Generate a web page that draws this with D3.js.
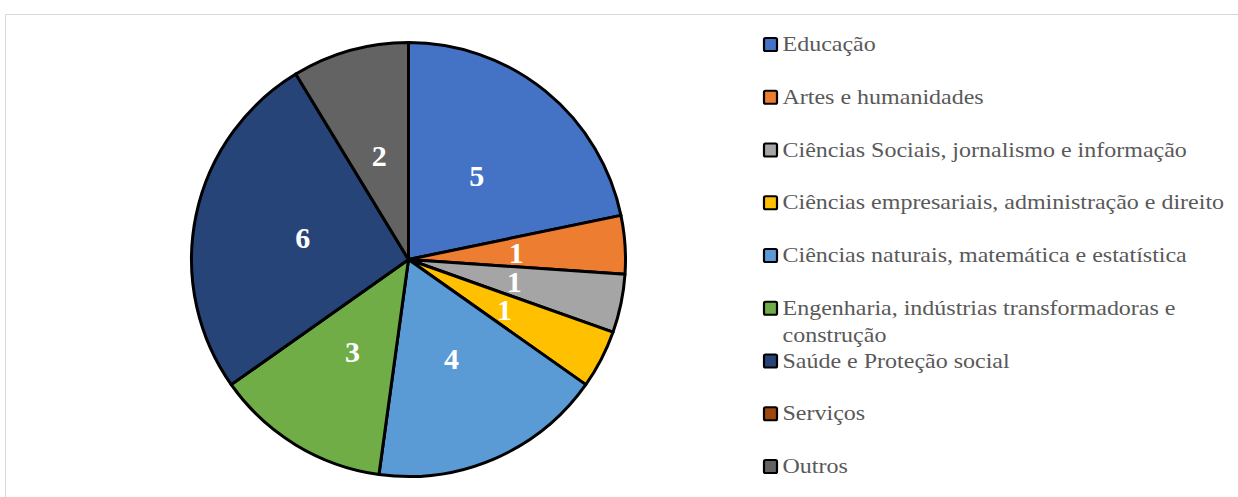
<!DOCTYPE html>
<html><head><meta charset="utf-8">
<script src="https://cdn.jsdelivr.net/npm/d3@7"></script>
<style>html,body{margin:0;padding:0;background:#fff;}svg{display:block;}
text{font-family:'Liberation Serif';}</style>
</head><body>
<svg id="chart" width="1238" height="497"></svg>
<script>
const categories = ["Educação","Artes e humanidades","Ciências Sociais, jornalismo e informação","Ciências empresariais, administração e direito","Ciências naturais, matemática e estatística","Engenharia, indústrias transformadoras e construção","Saúde e Proteção social","Serviços","Outros"];
const legendLines = [["Educação"],["Artes e humanidades"],["Ciências Sociais, jornalismo e informação"],["Ciências empresariais, administração e direito"],["Ciências naturais, matemática e estatística"],["Engenharia, indústrias transformadoras e","construção"],["Saúde e Proteção social"],["Serviços"],["Outros"]];
const values = [5,1,1,1,4,3,6,0,2];
const colors = ["#4472C4","#ED7D31","#A5A5A5","#FFC000","#5B9BD5","#70AD47","#264478","#9E480E","#636363"];

const svg = d3.select("#chart");
// chart area border
svg.append("path").attr("d","M5.5,497 L5.5,14.5 L1238,14.5").attr("fill","none").attr("stroke","#d9d9d9").attr("stroke-width",1);

const cx = 408.5, cy = 259.5, R = 217;
const data = categories.map((c,i)=>({cat:c, value:values[i], color:colors[i], lines:legendLines[i]}));
const pie = d3.pie().sort(null).value(d=>d.value);
const arcs = pie(data);
const arc = d3.arc().innerRadius(0).outerRadius(R);
const labelArc = d3.arc().innerRadius(108).outerRadius(108);
const g = svg.append("g").attr("transform",`translate(${cx},${cy})`);
g.selectAll("path.slice").data(arcs.filter(a=>a.data.value>0)).join("path")
  .attr("class","slice").attr("d",arc).attr("fill",d=>d.data.color)
  .attr("stroke","#000").attr("stroke-width",3).attr("stroke-linejoin","round");
g.selectAll("text.lbl").data(arcs.filter(a=>a.data.value>0)).join("text")
  .attr("class","lbl")
  .attr("transform",d=>`translate(${labelArc.centroid(d)})`)
  .attr("text-anchor","middle").attr("dy","0.35em")
  .style("font-family","'Liberation Serif'")
  .attr("font-weight","bold").attr("font-size",30).attr("fill","#fff")
  .text(d=>d.data.value);

// legend
const lx = 763, ly0 = 44.5, step = 52.75;
const leg = svg.append("g");
data.forEach((d,i)=>{
  const y = ly0 + i*step;
  leg.append("rect").attr("x",lx+1).attr("y",y-6.5).attr("width",13).attr("height",13)
    .attr("fill",d.color).attr("stroke","#000").attr("stroke-width",2.2).attr("rx",1.5);
  const t = leg.append("text").attr("transform",`translate(782.5,${y+6.5}) scale(1.2,1)`)
    .style("font-family","'Liberation Serif'")
    .attr("font-size",20).attr("fill","#595959");
  d.lines.forEach((ln,j)=>{
    t.append("tspan").attr("x",0).attr("dy",j===0?0:27).text(ln);
  });
});
</script>
</body></html>
